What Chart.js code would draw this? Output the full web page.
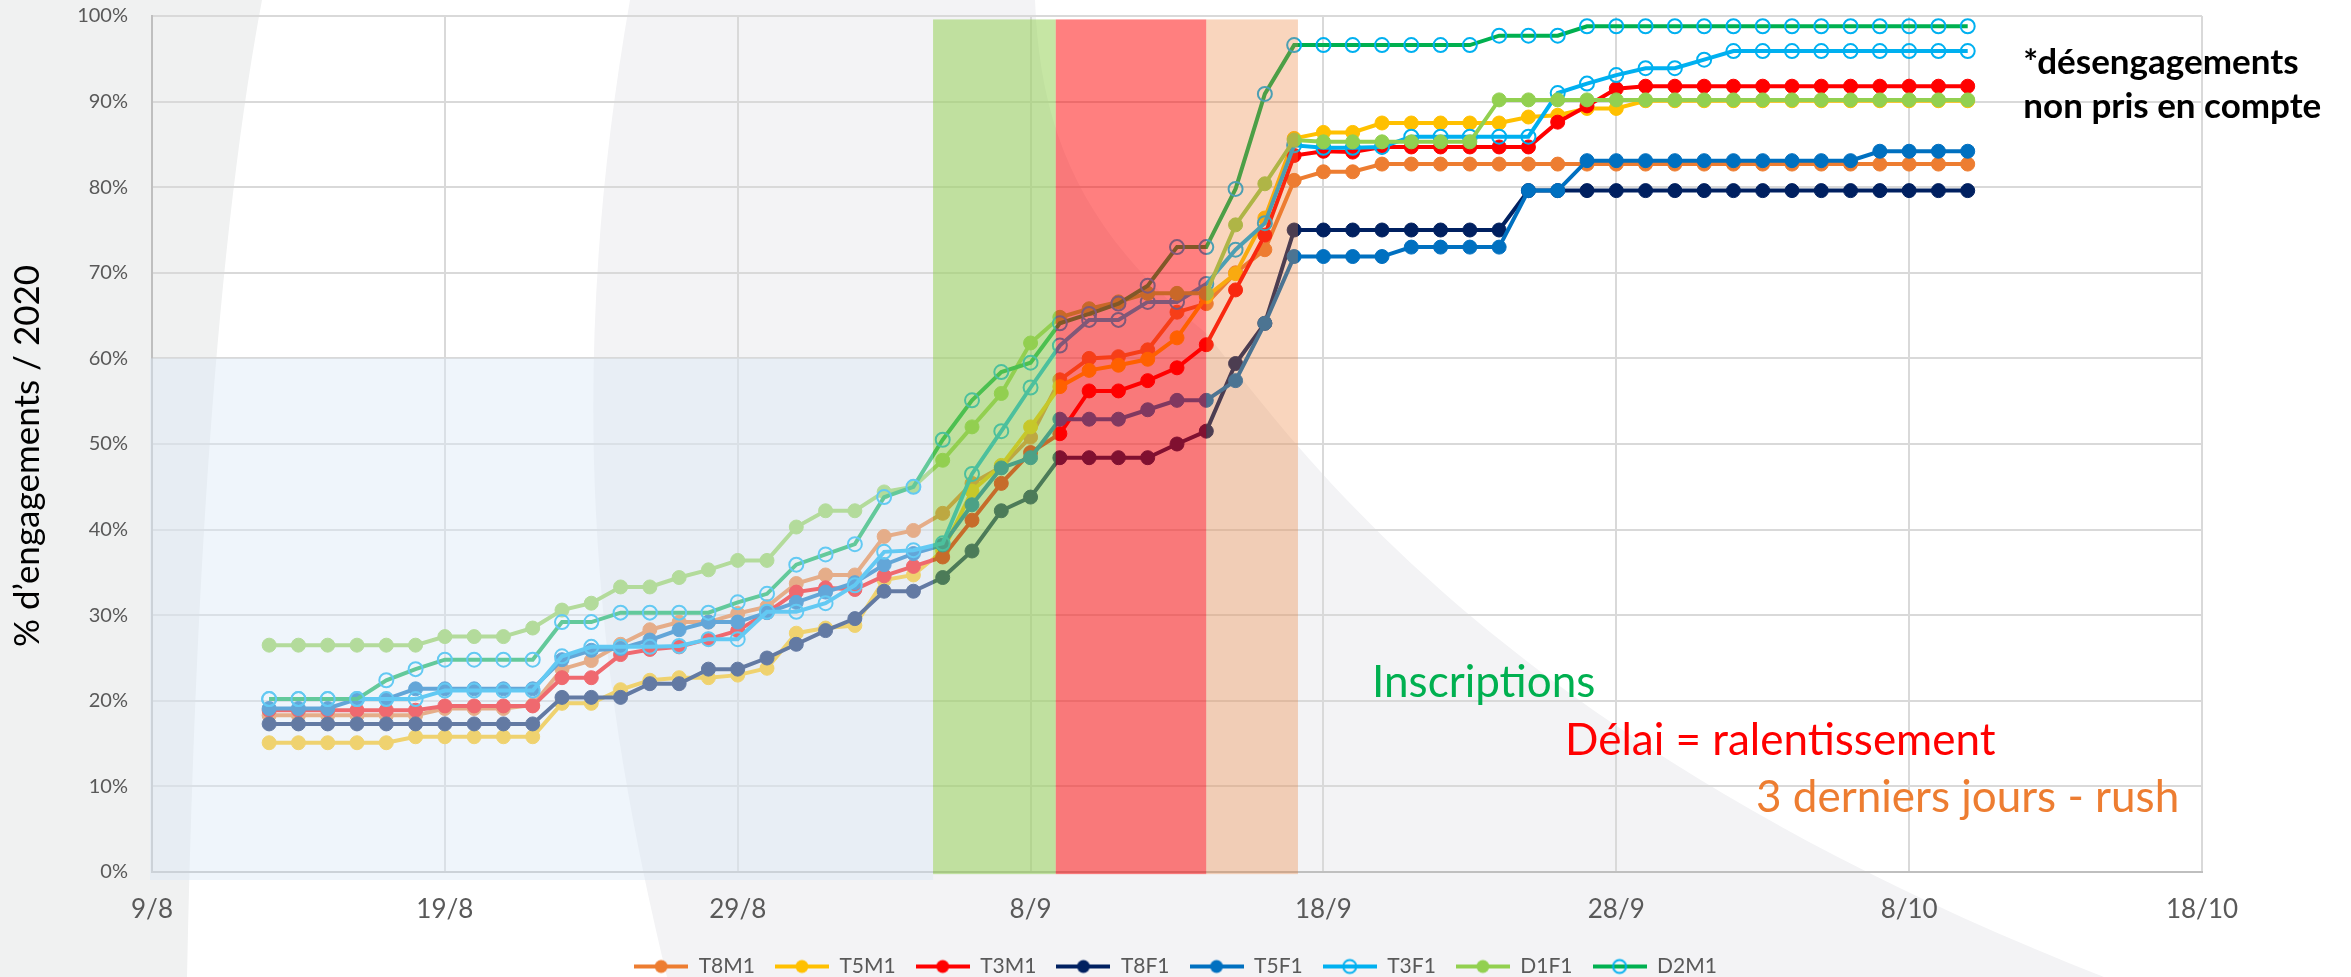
<!DOCTYPE html>
<html>
<head>
<meta charset="utf-8">
<style>
  html, body { margin: 0; padding: 0; overflow: hidden; background: #fff; }
  #fond { position: absolute; left: 0; top: 0; }
  #boite { position: absolute; left: 0; top: 0; width: 2351px; height: 987px; }
</style>
</head>
<body>
<svg id="fond" width="2351" height="977">
  <path d="M0 0 L262 0 Q200 330 187 977 L0 977 Z" fill="#f0f1f1"/>
  <path d="M630 0 L1035 0 C1040 130 1080 230 1206 333 C1300 450 1500 740 2104 977 L667 977 C600 700 560 400 630 0 Z" fill="#f3f3f5"/>
</svg>
<div id="boite"><canvas id="graphe"></canvas></div>
<script src="https://cdn.jsdelivr.net/npm/chart.js@4.4.0/dist/chart.umd.min.js"></script>
<script>
  // dates des relevés (13/8 -> 10/10)
  const jours = [
    '13/8', '14/8', '15/8', '16/8', '17/8', '18/8', '19/8', '20/8', '21/8', '22/8',
    '23/8', '24/8', '25/8', '26/8', '27/8', '28/8', '29/8', '30/8', '31/8',
    '1/9', '2/9', '3/9', '4/9', '5/9', '6/9', '7/9', '8/9', '9/9', '10/9',
    '11/9', '12/9', '13/9', '14/9', '15/9', '16/9', '17/9', '18/9', '19/9', '20/9',
    '21/9', '22/9', '23/9', '24/9', '25/9', '26/9', '27/9', '28/9', '29/9', '30/9',
    '1/10', '2/10', '3/10', '4/10', '5/10', '6/10', '7/10', '8/10', '9/10', '10/10'
  ];
  const ticksX = ['9/8', '19/8', '29/8', '8/9', '18/9', '28/9', '8/10', '18/10'];

  const T8M1 = [18.3, 18.3, 18.3, 18.3, 18.3, 18.3, 19.1, 19.1, 19.1, 19.5,
    23.7, 24.7, 26.6, 28.3, 29.2, 29.2, 30.2, 31.0, 33.7, 34.7, 34.7, 39.2, 39.9, 41.9,
    45.4, 47.3, 50.8, 57.5, 60.0, 60.2, 61.0, 65.4, 66.4, 70.0, 72.7, 80.8, 81.8, 81.8,
    82.7, 82.7, 82.7, 82.7, 82.7, 82.7, 82.7, 82.7, 82.7, 82.7, 82.7, 82.7, 82.7, 82.7,
    82.7, 82.7, 82.7, 82.7, 82.7, 82.7, 82.7];
  const T5M1 = [15.1, 15.1, 15.1, 15.1, 15.1, 15.8, 15.8, 15.8, 15.8, 15.8,
    19.7, 19.7, 21.3, 22.4, 22.7, 22.7, 23.0, 23.8, 27.9, 28.5, 28.8, 34.1, 34.7, 37.5,
    44.5, 47.5, 52.0, 56.7, 58.6, 59.2, 59.9, 62.4, 67.2, 69.9, 76.4, 85.7, 86.4, 86.4,
    87.5, 87.5, 87.5, 87.5, 87.5, 88.2, 88.4, 89.2, 89.2, 90.1, 90.1, 90.1, 90.1, 90.1,
    90.1, 90.1, 90.1, 90.1, 90.1, 90.1, 90.1];
  const T3M1 = [18.9, 18.9, 18.9, 18.9, 18.9, 18.9, 19.4, 19.4, 19.4, 19.4,
    22.7, 22.7, 25.4, 26.0, 26.3, 27.2, 28.2, 30.3, 32.7, 33.2, 33.0, 34.6, 35.7, 36.8,
    41.1, 45.4, 49.0, 51.2, 56.2, 56.2, 57.4, 58.9, 61.6, 68.0, 74.4, 83.7, 84.2, 84.1,
    84.7, 84.7, 84.7, 84.7, 84.7, 84.7, 87.6, 89.5, 91.5, 91.8, 91.8, 91.8, 91.8, 91.8,
    91.8, 91.8, 91.8, 91.8, 91.8, 91.8, 91.8];
  const T8F1 = [17.3, 17.3, 17.3, 17.3, 17.3, 17.3, 17.3, 17.3, 17.3, 17.3,
    20.4, 20.4, 20.4, 22.0, 22.0, 23.7, 23.7, 25.0, 26.6, 28.2, 29.6, 32.8, 32.8, 34.4,
    37.5, 42.2, 43.8, 48.4, 48.4, 48.4, 48.4, 50.0, 51.5, 59.4, 64.1, 75.0, 75.0, 75.0,
    75.0, 75.0, 75.0, 75.0, 75.0, 79.6, 79.6, 79.6, 79.6, 79.6, 79.6, 79.6, 79.6, 79.6,
    79.6, 79.6, 79.6, 79.6, 79.6, 79.6, 79.6];
  const T5F1 = [19.1, 19.1, 19.1, 20.2, 20.2, 21.4, 21.4, 21.4, 21.4, 21.4,
    24.8, 25.9, 26.1, 27.1, 28.3, 29.2, 29.2, 30.3, 31.5, 32.7, 33.8, 35.9, 37.2, 38.2,
    42.9, 47.2, 48.4, 52.9, 52.9, 52.9, 54.0, 55.1, 55.1, 57.4, 64.1, 71.9, 71.9, 71.9,
    71.9, 73.0, 73.0, 73.0, 73.0, 79.6, 79.6, 83.1, 83.1, 83.1, 83.1, 83.1, 83.1, 83.1,
    83.1, 83.1, 83.1, 84.2, 84.2, 84.2, 84.2];
  const T3F1 = [20.2, 20.2, 20.2, 20.2, 20.2, 20.2, 21.2, 21.2, 21.2, 21.2,
    25.2, 26.3, 26.3, 26.3, 26.4, 27.2, 27.2, 30.4, 30.4, 31.4, 33.5, 37.4, 37.6, 38.4,
    46.5, 51.5, 56.6, 61.5, 64.5, 64.5, 66.6, 66.6, 68.7, 72.7, 75.8, 84.9, 84.6, 84.6,
    84.7, 85.9, 85.9, 85.9, 85.9, 85.9, 91.0, 92.1, 93.1, 93.9, 93.9, 94.9, 95.9, 95.9,
    95.9, 95.9, 95.9, 95.9, 95.9, 95.9, 95.9];
  const D1F1 = [26.5, 26.5, 26.5, 26.5, 26.5, 26.5, 27.5, 27.5, 27.5, 28.5,
    30.6, 31.4, 33.3, 33.3, 34.4, 35.3, 36.4, 36.4, 40.3, 42.2, 42.2, 44.4, 45.0, 48.1,
    52.0, 55.9, 61.8, 64.8, 65.8, 66.6, 67.6, 67.6, 67.6, 75.6, 80.4, 85.5, 85.3, 85.3,
    85.3, 85.3, 85.3, 85.3, 90.2, 90.2, 90.2, 90.2, 90.2, 90.2, 90.2, 90.2, 90.2, 90.2,
    90.2, 90.2, 90.2, 90.2, 90.2, 90.2, 90.2];
  const D2M1 = [20.2, 20.2, 20.2, 20.2, 22.4, 23.7, 24.8, 24.8, 24.8, 24.8,
    29.2, 29.2, 30.3, 30.3, 30.3, 30.3, 31.5, 32.5, 35.9, 37.1, 38.3, 43.8, 45.0, 50.5,
    55.1, 58.4, 59.5, 64.1, 65.2, 66.4, 68.5, 73.0, 73.0, 79.8, 90.9, 96.6, 96.6, 96.6,
    96.6, 96.6, 96.6, 96.6, 97.7, 97.7, 97.7, 98.8, 98.8, 98.8, 98.8, 98.8, 98.8, 98.8,
    98.8, 98.8, 98.8, 98.8, 98.8, 98.8, 98.8];

  const series = [
    { nom: 'T8M1', vals: T8M1, trait: '#ED7D31', point: '#ED7D31', plein: true },
    { nom: 'T5M1', vals: T5M1, trait: '#FFC000', point: '#FFC000', plein: true },
    { nom: 'T3M1', vals: T3M1, trait: '#FF0000', point: '#FF0000', plein: true },
    { nom: 'T8F1', vals: T8F1, trait: '#002060', point: '#002060', plein: true },
    { nom: 'T5F1', vals: T5F1, trait: '#0070C0', point: '#0070C0', plein: true },
    { nom: 'T3F1', vals: T3F1, trait: '#00B0F0', point: '#00B0F0', plein: false },
    { nom: 'D1F1', vals: D1F1, trait: '#92D050', point: '#92D050', plein: true },
    { nom: 'D2M1', vals: D2M1, trait: '#00B050', point: '#00B0F0', plein: false }
  ];

  // périodes surlignées (en jours depuis le 9/8)
  const zones = [
    { de: 26.67, a: 30.86, couleur: 'rgba(146,208,80,0.52)' },
    { de: 30.86, a: 36.0, couleur: 'rgba(255,0,0,0.5)' },
    { de: 36.0, a: 39.13, couleur: 'rgba(237,125,49,0.32)' }
  ];

  const notes = [
    { texte: 'Inscriptions', jour: 41.66, val: 20.4, couleur: '#00B050', police: '44px Lato' },
    { texte: 'Délai = ralentissement', jour: 48.25, val: 13.7, couleur: '#FF0000', police: '44px Lato' },
    { texte: '3 derniers jours - rush', jour: 54.77, val: 7.0, couleur: '#ED7D31', police: '44px Lato' },
    { texte: '*désengagements', jour: 63.9, val: 93.2, couleur: '#000000', police: 'bold 35px Lato' },
    { texte: 'non pris en compte', jour: 63.9, val: 88.05, couleur: '#000000', police: 'bold 35px Lato' }
  ];
  const titreY = '% d’engagements / 2020';

  function jourIndex(lbl) {
    const [d, m] = lbl.split('/').map(Number);
    return Math.round((Date.UTC(2020, m - 1, d) - Date.UTC(2020, 7, 9)) / 86400000);
  }

  function icone(s) {
    const c = document.createElement('canvas');
    c.width = 54;
    c.height = 18;
    const g = c.getContext('2d');
    g.strokeStyle = s.trait;
    g.lineWidth = 4;
    g.beginPath();
    g.moveTo(0, 9);
    g.lineTo(54, 9);
    g.stroke();
    g.beginPath();
    g.arc(27, 9, 6.5, 0, 2 * Math.PI);
    if (s.plein) {
      g.fillStyle = s.point;
      g.fill();
    } else {
      g.lineWidth = 2;
      g.strokeStyle = s.point;
      g.stroke();
    }
    return c;
  }
  const icones = series.map(icone);

  const datasets = series.map((s, i) => ({
    label: s.nom,
    data: jours.map((j, k) => ({ x: jourIndex(j), y: s.vals[k] })),
    borderColor: s.trait,
    backgroundColor: s.trait,
    borderWidth: 4,
    pointRadius: 7,
    pointBorderWidth: s.plein ? 1 : 2,
    pointBackgroundColor: s.plein ? s.point : 'transparent',
    pointBorderColor: s.point,
    tension: 0,
    order: series.length - 1 - i
  }));

  const surlignage = {
    id: 'surlignage',
    afterDatasetsDraw(chart) {
      const ctx = chart.ctx;
      const x = chart.scales.x;
      const y = chart.scales.y;
      ctx.save();
      // voile bleu clair sur le début de la période
      ctx.fillStyle = 'rgba(220,233,247,0.45)';
      const x0 = x.getPixelForValue(0) - 2;
      const x1 = x.getPixelForValue(zones[0].de);
      const yTop = y.getPixelForValue(60);
      ctx.fillRect(x0, yTop, x1 - x0, y.getPixelForValue(0) + 8 - yTop);
      zones.forEach(z => {
        const a = x.getPixelForValue(z.de);
        const b = x.getPixelForValue(z.a);
        const t = y.getPixelForValue(99.6);
        const bas = y.getPixelForValue(-0.25);
        ctx.fillStyle = z.couleur;
        ctx.fillRect(a, t, b - a, bas - t);
      });
      ctx.restore();
    },
    afterDraw(chart) {
      const ctx = chart.ctx;
      ctx.save();
      ctx.textBaseline = 'alphabetic';
      ctx.textAlign = 'left';
      notes.forEach(n => {
        ctx.font = n.police;
        ctx.fillStyle = n.couleur;
        ctx.fillText(n.texte, chart.scales.x.getPixelForValue(n.jour), chart.scales.y.getPixelForValue(n.val));
      });
      // titre de l'axe vertical, un peu sous le milieu comme dans l'original
      const a = chart.chartArea;
      ctx.translate(28, (a.top + a.bottom) / 2 + 12);
      ctx.rotate(-Math.PI / 2);
      ctx.textAlign = 'center';
      ctx.textBaseline = 'middle';
      ctx.font = '35px Lato';
      ctx.fillStyle = '#000000';
      ctx.fillText(titreY, 0, 0);
      ctx.restore();
    }
  };

  const ctx = document.getElementById('graphe').getContext('2d');
  const graphe = new Chart(ctx, {
    type: 'line',
    data: { datasets: datasets },
    plugins: [surlignage],
    options: {
      responsive: true,
      maintainAspectRatio: false,
      animation: false,
      layout: { padding: { top: 4, left: 0, right: 0, bottom: 0 } },
      plugins: {
        tooltip: { enabled: false },
        legend: {
          position: 'bottom',
          labels: {
            usePointStyle: true,
            pointStyleWidth: 54,
            padding: 20,
            color: '#595959',
            font: { family: 'Lato', size: 21 },
            generateLabels(chart) {
              const items = Chart.defaults.plugins.legend.labels.generateLabels(chart);
              items.forEach(it => { it.pointStyle = icones[it.datasetIndex]; });
              return items;
            },
            sort: (a, b) => a.datasetIndex - b.datasetIndex
          }
        }
      },
      scales: {
        x: {
          type: 'linear',
          min: 0,
          max: 70,
          afterFit(s) { s.height = 64; },
          ticks: {
            stepSize: 10,
            padding: 22,
            color: '#595959',
            font: { family: 'Lato', size: 26 },
            callback: function (value, index) {
              return ticksX[index];
            }
          },
          grid: { color: '#d9d9d9', lineWidth: 2, drawTicks: false },
          border: { color: '#bfbfbf', width: 2 }
        },
        y: {
          min: 0,
          max: 100,
          afterFit(s) { s.width = 152; },
          ticks: {
            stepSize: 10,
            padding: 4,
            color: '#595959',
            font: { family: 'Lato', size: 20 },
            callback: function (value) {
              return value + '%';
            }
          },
          grid: { color: '#d9d9d9', lineWidth: 2, drawTicks: true, tickLength: 20, tickColor: 'rgba(0,0,0,0)' },
          border: { color: '#bfbfbf', width: 2 }
        },
        y2: {
          position: 'right',
          display: true,
          afterFit(s) { s.width = 149; },
          ticks: { display: false },
          grid: { display: false, drawTicks: false },
          border: { display: false }
        }
      }
    }
  });
</script>
</body>
</html>
